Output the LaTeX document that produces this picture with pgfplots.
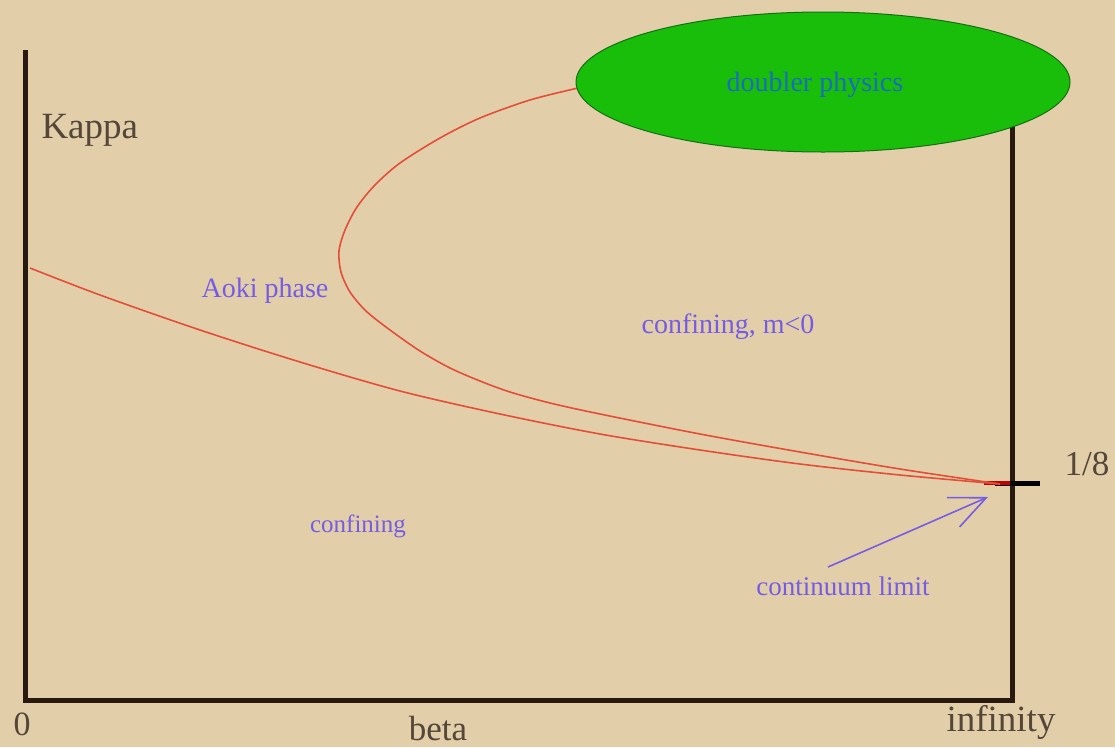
\documentclass[border=0pt]{standalone}
\usepackage{pgfplots}
\pgfplotsset{compat=1.18}
\usepackage{fontspec}
\setmainfont{Liberation Serif}
\usetikzlibrary{arrows.meta}
\definecolor{bg}{RGB}{226,207,170}
\definecolor{axc}{RGB}{40,26,16}
\definecolor{txt}{RGB}{84,70,56}
\definecolor{pur}{RGB}{118,92,228}
\definecolor{blu}{RGB}{28,108,190}
\definecolor{grn}{RGB}{24,190,10}
\definecolor{grnd}{RGB}{20,110,20}
\definecolor{crv}{RGB}{228,78,56}
\pgfplotstableread{
x y
30 268
100 295
200 330
300 362
400 391
500 414
600 434
700 450
800 464
900 475
1000 484
}\lowercurve
\pgfplotstableread{
x y
578 88
530 100
480 118
440 138
400 163
375 185
357 207
345 230
339 251
341 272
350 292
366 311
390 330
420 351
450 368
480 381
510 392
550 403
600 414
700 434
800 452
900 469
1000 484
}\uppercurve
\begin{document}
\begin{tikzpicture}
\begin{axis}[
  width=1115pt, height=747pt, scale only axis,
  xmin=0, xmax=1115, ymin=0, ymax=747, y dir=reverse,
  hide axis, clip=false,
]
\fill[bg] (rel axis cs:0,0) rectangle (rel axis cs:1,1);
% axes frame
\addplot[color=axc, line width=5pt, line join=miter] coordinates {(25,50) (25,700) (1012,700) (1012,60)};
% 1/8 tick
\addplot[color=black, line width=5pt] coordinates {(995,483) (1040,483)};
\addplot[color=red!75!black, line width=4.5pt] coordinates {(984,483) (1010,483)};
% curves
\addplot[color=crv, line width=1.6pt, smooth] table[x=x,y=y] {\lowercurve};
\addplot[color=crv, line width=1.6pt, smooth] table[x=x,y=y] {\uppercurve};
% ellipse
\draw[fill=grn, draw=grnd, line width=1pt] (axis cs:823,82) ellipse [x radius=247pt, y radius=70pt];
% arrow
\addplot[color=pur, line width=1.6pt, -{Straight Barb[length=36pt, width=32pt, line width=1.6pt]}] coordinates {(828,567) (988,497)};
% texts
\node[anchor=base west, text=txt, font=\fontsize{37}{40}\selectfont] at (axis cs:38,138) {Kappa};
\node[anchor=base, text=txt, font=\fontsize{34}{38}\selectfont] at (axis cs:22,735) {0};
\node[anchor=base, text=txt, font=\fontsize{35}{40}\selectfont, inner sep=0pt] at (axis cs:438,740) {beta};
\node[anchor=base, text=txt, font=\fontsize{37}{40}\selectfont] at (axis cs:1001,731) {infinity};
\node[anchor=base west, text=txt, font=\fontsize{35}{40}\selectfont] at (axis cs:1061,475) {1/8};
\node[anchor=base, text=blu, font=\fontsize{28}{30}\selectfont] at (axis cs:815,91) {doubler physics};
\node[anchor=base, text=pur, font=\fontsize{28}{30}\selectfont] at (axis cs:265,297) {Aoki phase};
\node[anchor=base, text=pur, font=\fontsize{28}{30}\selectfont] at (axis cs:728,333) {confining, m<0};
\node[anchor=base, text=pur, font=\fontsize{25}{30}\selectfont] at (axis cs:358,532) {confining};
\node[anchor=base, text=pur, font=\fontsize{27}{30}\selectfont] at (axis cs:843,595) {continuum limit};
\end{axis}
\end{tikzpicture}
\end{document}
